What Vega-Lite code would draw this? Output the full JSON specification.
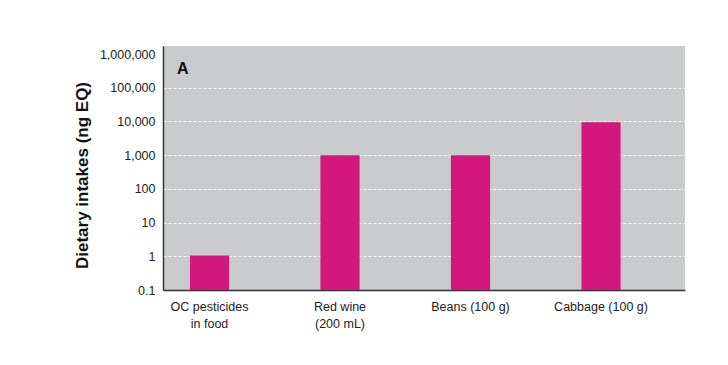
{
  "$schema": "https://vega.github.io/schema/vega-lite/v6.json",
  "autosize": "none",
  "width": 522,
  "height": 244,
  "padding": {"left": 163, "top": 46, "right": 43, "bottom": 75},
  "background": "white",
  "title": {
    "text": "A",
    "anchor": "start",
    "frame": "group",
    "orient": "top",
    "offset": -31,
    "dx": 14,
    "font": "Liberation Sans",
    "fontSize": 16,
    "fontWeight": "bold",
    "color": "#111"
  },
  "data": {
    "values": [
      {"food": "OC pesticides in food", "intake": 1.05},
      {"food": "Red wine (200 mL)", "intake": 1000},
      {"food": "Beans (100 g)", "intake": 1000},
      {"food": "Cabbage (100 g)", "intake": 9500}
    ]
  },
  "mark": {"type": "bar", "color": "#d4177c"},
  "encoding": {
    "x": {
      "field": "food",
      "type": "nominal",
      "sort": null,
      "scale": {"paddingInner": 0.7, "paddingOuter": 0.35, "align": 0.295},
      "axis": {
        "title": null,
        "labelAngle": 0,
        "labelFont": "Liberation Sans",
        "labelFontSize": 12.5,
        "labelColor": "#222",
        "labelPadding": 10,
        "labelLineHeight": 17,
        "labelExpr": "datum.value == 'OC pesticides in food' ? ['OC pesticides', 'in food'] : datum.value == 'Red wine (200 mL)' ? ['Red wine', '(200 mL)'] : datum.value",
        "ticks": false,
        "domainColor": "#333",
        "domainWidth": 1.5,
        "grid": false
      }
    },
    "y": {
      "field": "intake",
      "type": "quantitative",
      "scale": {"type": "log", "domain": [0.1, 1730000], "nice": false},
      "axis": {
        "title": "Dietary intakes (ng EQ)",
        "titleFont": "Liberation Sans",
        "titleFontSize": 17,
        "titleFontWeight": "bold",
        "titleColor": "#111",
        "titleAngle": -90,
        "titleX": -81,
        "titleY": 129,
        "titleAlign": "center",
        "titleBaseline": "middle",
        "values": [0.1, 1, 10, 100, 1000, 10000, 100000, 1000000],
        "labelExpr": "datum.value < 1 ? '0.1' : format(datum.value, ',d')",
        "labelFont": "Liberation Sans",
        "labelFontSize": 12.5,
        "labelColor": "#222",
        "labelPadding": 8,
        "ticks": false,
        "domainColor": "#333",
        "domainWidth": 1.5,
        "grid": true,
        "gridColor": "white",
        "gridDash": [3, 2],
        "gridWidth": 1,
        "gridOpacity": {"condition": {"test": "datum.value >= 1000000", "value": 0}, "value": 0.9}
      }
    },
    "y2": {"datum": 0.1}
  },
  "config": {
    "view": {"fill": "#c9cbcc", "stroke": null}
  }
}
